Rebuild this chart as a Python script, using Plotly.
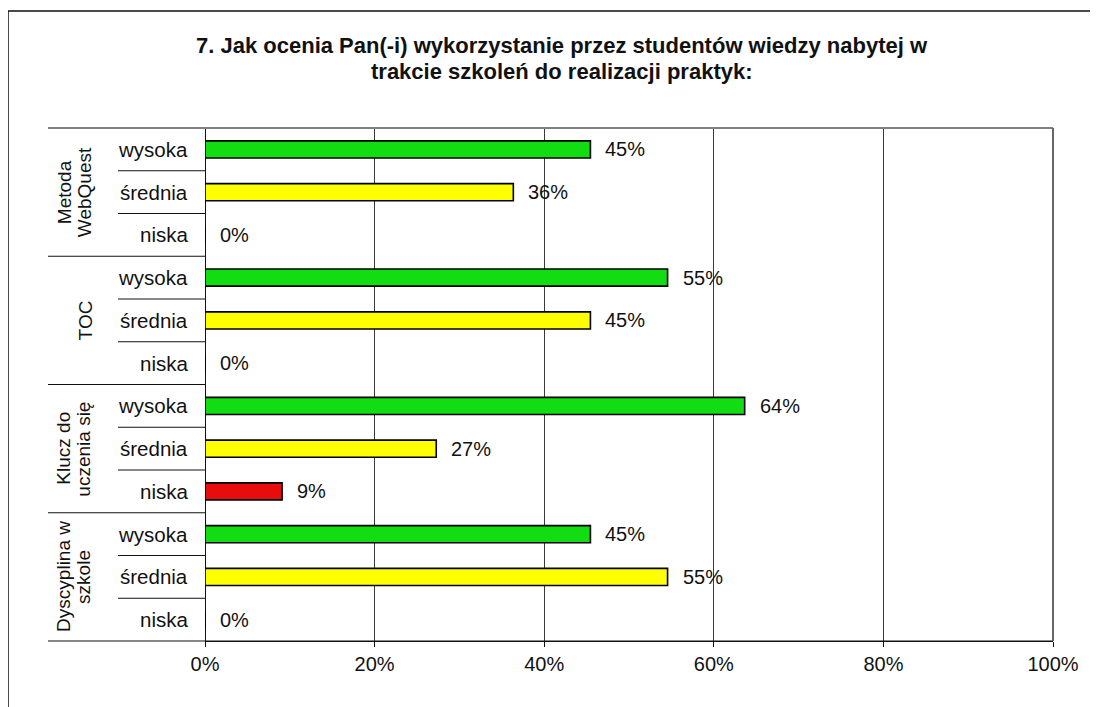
import plotly.graph_objects as go

# ---- data ----
groups = ["Metoda<br>WebQuest", "TOC", "Klucz do<br>uczenia się", "Dyscyplina w<br>szkole"]
levels = ["wysoka", "średnia", "niska"]
level_colors = {"wysoka": "#12DC12", "średnia": "#FFFF00", "niska": "#E80C0C"}
values_webquest = [0.4545, 0.3636, 0.0]
values_toc = [0.5455, 0.4545, 0.0]
values_klucz = [0.6364, 0.2727, 0.0909]
values_dyscyplina = [0.4545, 0.5455, 0.0]
group_values = [values_webquest, values_toc, values_klucz, values_dyscyplina]
x_ticks = [0, 0.2, 0.4, 0.6, 0.8, 1.0]
x_tick_labels = ["0%", "20%", "40%", "60%", "80%", "100%"]
title_lines = ["7. Jak ocenia Pan(-i) wykorzystanie przez studentów wiedzy nabytej w",
               "trakcie szkoleń do realizacji praktyk:"]

# ---- layout geometry (screen pixels; page body has an 8px margin) ----
OFF = 8
W, H = 1098 - OFF, 707 - OFF
PL, PR, PT, PB = 205, 1053, 128, 641
pw, ph = PR - PL, PB - PT


def px_x(px):
    return (px - PL) / pw


def px_y(py):
    return (PB - py) / ph


FONT = "Arial, Liberation Sans, sans-serif"
TXT = "#111111"

rows_y, rows_x, rows_c, rows_lbl = [], [], [], []
i = 0
for g, vals in zip(groups, group_values):
    for lvl, v in zip(levels, vals):
        rows_y.append(i)
        rows_x.append(v)
        rows_c.append(level_colors[lvl])
        rows_lbl.append(lvl)
        i += 1
n = len(rows_y)

fig = go.Figure()
fig.add_trace(go.Bar(
    x=rows_x, y=rows_y, orientation="h",
    marker=dict(color=rows_c, line=dict(color="black", width=1.6)),
    width=0.4, hoverinfo="skip", showlegend=False,
))

annotations = []
# title (two lines, tight spacing)
for li, line in enumerate(title_lines):
    annotations.append(dict(
        x=px_x(562), y=px_y(46 + li * 25.5), xref="paper", yref="paper",
        text=f"<b>{line}</b>", showarrow=False, xanchor="center", yanchor="middle",
        font=dict(family=FONT, size=22, color=TXT), borderpad=0,
    ))
# data labels
for y, v in zip(rows_y, rows_x):
    annotations.append(dict(
        x=v, y=y, xref="x", yref="y", text=f"{round(v * 100):.0f}%",
        showarrow=False, xanchor="left", yanchor="middle", xshift=13,
        font=dict(family=FONT, size=20, color=TXT),
    ))
# level labels
for y, lbl in zip(rows_y, rows_lbl):
    annotations.append(dict(
        x=px_x(190), y=y, xref="paper", yref="y", text=lbl,
        showarrow=False, xanchor="right", yanchor="middle",
        font=dict(family=FONT, size=20.5, color=TXT),
    ))
# group labels (rotated, each line separately for tight spacing)
for gi, g in enumerate(groups):
    yc = gi * len(levels) + (len(levels) - 1) / 2
    parts = g.split("<br>")
    xs = [64, 84] if len(parts) == 2 else [85]
    for part, cx in zip(parts, xs):
        annotations.append(dict(
            x=px_x(cx), y=yc, xref="paper", yref="y", text=part,
            showarrow=False, textangle=-90, xanchor="center", yanchor="middle",
            font=dict(family=FONT, size=19, color=TXT),
        ))

shapes = []
# row separators in label area
for k in range(1, n):
    is_group = (k % len(levels) == 0)
    x0 = px_x(48) if is_group else px_x(118)
    shapes.append(dict(type="line", xref="paper", yref="y", x0=x0, x1=0,
                       y0=k - 0.5, y1=k - 0.5, line=dict(color=TXT, width=1)))
# bottom line extension
shapes.append(dict(type="line", xref="paper", yref="paper", x0=px_x(48), x1=1,
                   y0=0, y1=0, line=dict(color=TXT, width=1.2)))
# top border of plot region
shapes.append(dict(type="line", xref="paper", yref="paper", x0=px_x(48), x1=1,
                   y0=1, y1=1, line=dict(color="#808080", width=2)))
# right border
shapes.append(dict(type="line", xref="paper", yref="paper", x0=1, x1=1,
                   y0=0, y1=1, line=dict(color="#666666", width=2)))
# outer frame
shapes.append(dict(type="rect", xref="paper", yref="paper",
                   x0=px_x(8), x1=px_x(1110), y0=px_y(720), y1=px_y(11),
                   line=dict(color=TXT, width=1.5), fillcolor="rgba(0,0,0,0)"))

fig.update_layout(
    width=W, height=H,
    margin=dict(l=PL - OFF, r=(W + OFF) - PR, t=PT - OFF, b=(H + OFF) - PB, pad=0),
    paper_bgcolor="white", plot_bgcolor="white",
    xaxis=dict(range=[0, 1], tickvals=x_ticks, ticktext=x_tick_labels,
               showgrid=True, gridcolor="#3a3a3a", gridwidth=1,
               zeroline=True, zerolinecolor=TXT, zerolinewidth=1,
               showline=True, linecolor=TXT, linewidth=1.2,
               ticks="outside", ticklen=5, tickcolor=TXT,
               tickfont=dict(family=FONT, size=20, color=TXT),
               fixedrange=True),
    yaxis=dict(range=[n - 0.5, -0.5], showticklabels=False, showgrid=False,
               zeroline=False, showline=False, fixedrange=True),
    annotations=annotations, shapes=shapes,
    bargap=0.6,
)

fig.write_html("out.html")
